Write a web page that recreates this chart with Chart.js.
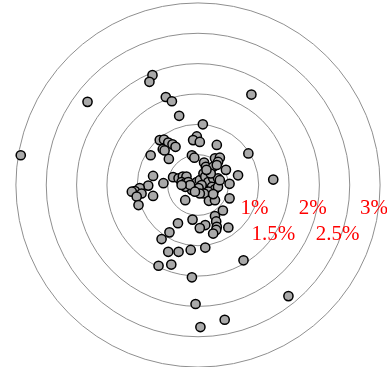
<!DOCTYPE html>
<html>
<head>
<meta charset="utf-8">
<script src="https://cdn.jsdelivr.net/npm/chart.js@4.4.0/dist/chart.umd.min.js"></script>
<style>
html,body{margin:0;padding:0;background:#fff;}
#wrap{width:387px;height:367px;}
</style>
</head>
<body>
<div id="wrap"><canvas id="c" width="387" height="367"></canvas></div>
<script>
// deviation values (%), horizontal and vertical
const xValues = [
 -0.75,-0.80,-1.82,-0.53,-0.43,-0.31,0.08,0.88,-2.92,
 -0.63,-0.56,-0.49,-0.42,-0.37,-0.58,-0.55,-0.78,-0.48,
 -0.02,-0.08,0.03,0.31,
 -0.10,-0.06,0.28,0.36,0.33,0.10,0.13,0.25,0.31,0.46,0.66,0.83,1.24,
 -0.41,-0.32,-0.25,-0.19,-0.27,-0.21,-0.16,-0.02,0.03,0.09,0.12,0.17,0.25,0.33,0.06,0.01,-0.10,-0.21,-0.13,-0.27,0.23,0.28,0.17,0.10,0.03,-0.05,0.52,0.52,0.33,0.36,0.21,0.14,
 -0.74,-0.57,-0.82,-0.96,-1.04,-1.09,-0.93,-1.01,-0.74,-0.98,
 -0.21,0.18,0.28,0.25,0.41,0.28,0.30,0.31,0.30,0.25,0.50,0.12,0.03,-0.09,-0.33,-0.47,-0.60,
 -0.49,-0.32,-0.12,0.12,-0.65,-0.44,0.75,-0.10,-0.04,1.49,0.44,0.04
];
const yValues = [
 1.81,1.70,1.37,1.45,1.38,1.14,1.00,1.49,0.49,
 0.74,0.75,0.70,0.67,0.63,0.59,0.57,0.49,0.43,
 0.80,0.74,0.71,0.66,
 0.49,0.45,0.44,0.45,0.38,0.37,0.30,0.30,0.33,0.25,0.16,0.52,0.09,
 0.13,0.11,0.14,0.14,0.05,0.03,0.05,0.05,0.08,0.19,0.14,0.05,0.11,0.11,0.00,-0.05,-0.08,-0.03,0.00,0.00,-0.03,-0.07,-0.11,-0.14,-0.14,-0.11,0.02,-0.22,-0.03,0.08,0.19,0.25,
 0.15,0.03,-0.01,-0.05,-0.10,-0.11,-0.14,-0.19,-0.18,-0.33,
 -0.25,-0.26,-0.25,-0.15,-0.42,-0.51,-0.60,-0.69,-0.74,-0.80,-0.70,-0.66,-0.71,-0.57,-0.63,-0.78,-0.89,
 -1.10,-1.10,-1.07,-1.03,-1.33,-1.31,-1.24,-1.52,-1.96,-1.83,-2.22,-2.34
];
const ringRadii = [0.5, 1, 1.5, 2, 2.5, 3];
const ringLabels = ['1%', '1.5%', '2%', '2.5%', '3%'];
const labelX = [0.93, 1.24, 1.89, 2.30, 2.90];
const labelY = [-0.38, -0.82, -0.38, -0.82, -0.38];

const points = xValues.map((x, i) => ({x: x, y: yValues[i]}));

const ringsPlugin = {
  id: 'rings',
  beforeDatasetsDraw(chart) {
    const {ctx, scales: {x, y}} = chart;
    const cx = x.getPixelForValue(0), cy = y.getPixelForValue(0);
    ctx.save();
    ctx.strokeStyle = '#8f8f8f';
    ctx.lineWidth = 1;
    ringRadii.forEach(r => {
      const rp = x.getPixelForValue(r) - cx;
      ctx.beginPath();
      ctx.arc(cx, cy, rp, 0, Math.PI * 2);
      ctx.stroke();
    });
    ctx.restore();
  },
  afterDatasetsDraw(chart) {
    const {ctx, scales: {x, y}} = chart;
    ctx.save();
    ctx.fillStyle = '#ff0000';
    ctx.font = '21px "Liberation Serif", "Times New Roman", serif';
    ctx.textAlign = 'center';
    ctx.textBaseline = 'middle';
    ringLabels.forEach((t, i) => {
      ctx.fillText(t, x.getPixelForValue(labelX[i]), y.getPixelForValue(labelY[i]));
    });
    ctx.restore();
  }
};

new Chart(document.getElementById('c'), {
  type: 'scatter',
  data: {
    datasets: [{
      data: points,
      pointRadius: 4.6,
      pointHoverRadius: 4.6,
      pointBackgroundColor: '#a9a9a9',
      pointBorderColor: '#000',
      pointBorderWidth: 1.5,
      clip: false
    }]
  },
  options: {
    responsive: false,
    animation: false,
    events: [],
    layout: {padding: 0, autoPadding: false},
    plugins: {legend: {display: false}, tooltip: {enabled: false}},
    scales: {
      x: {type: 'linear', display: false, min: -3.262, max: 3.114},
      y: {type: 'linear', display: false, min: -2.998, max: 3.048}
    }
  },
  plugins: [ringsPlugin]
});
</script>
</body>
</html>
